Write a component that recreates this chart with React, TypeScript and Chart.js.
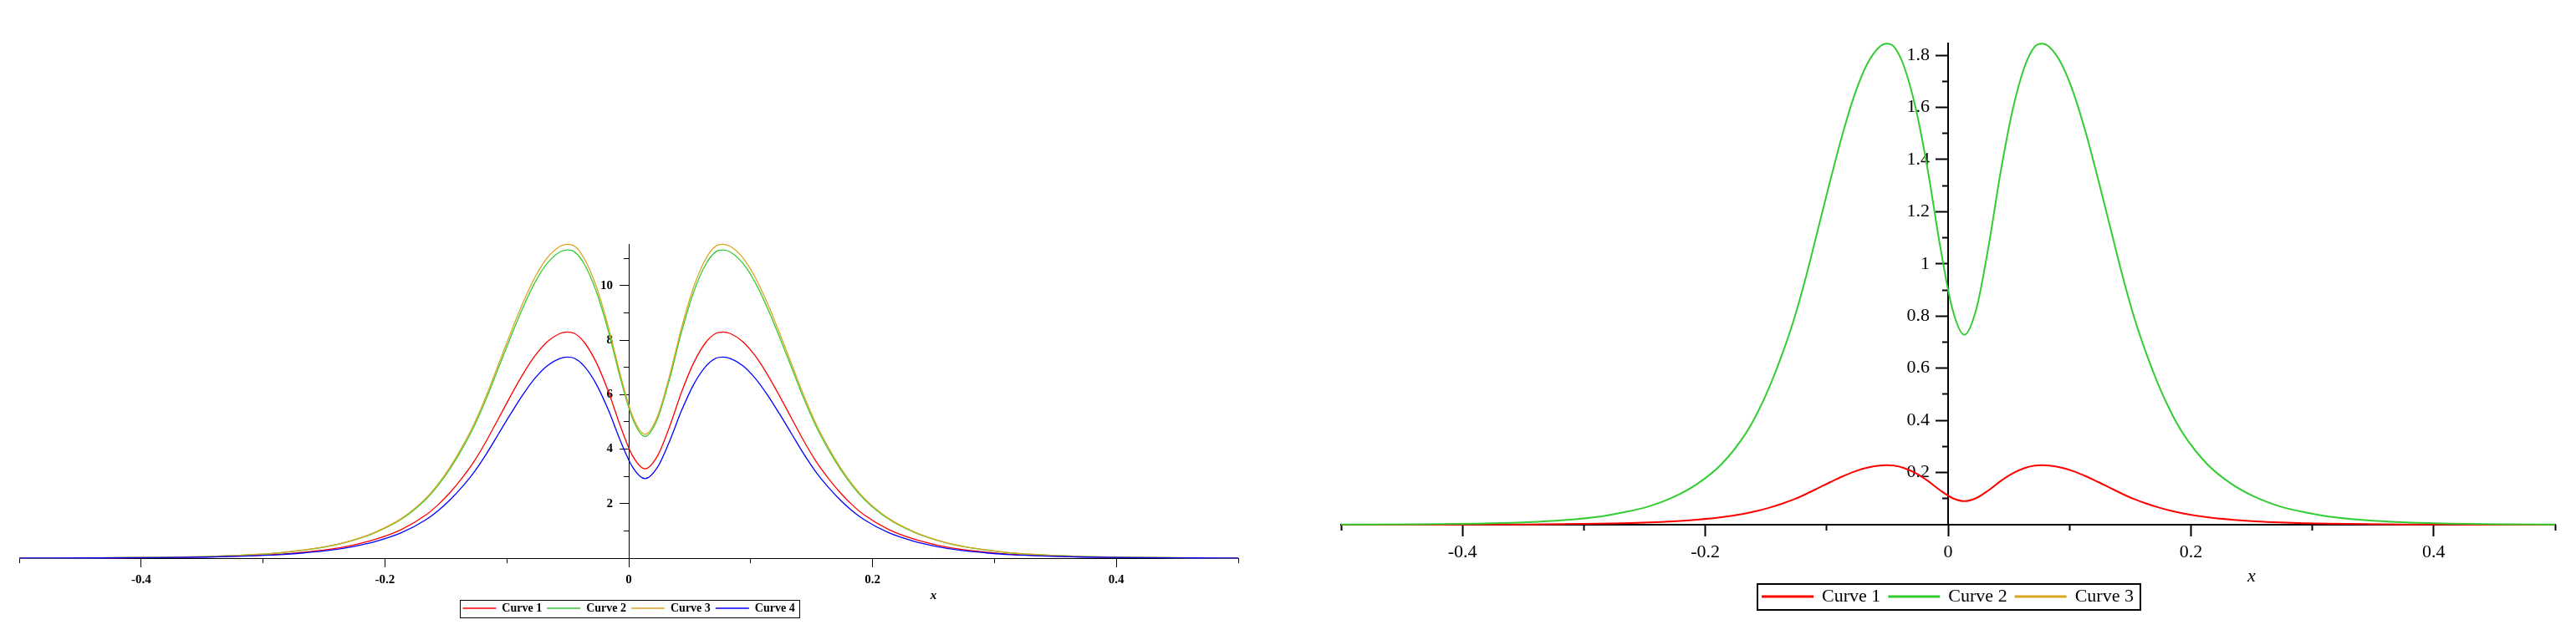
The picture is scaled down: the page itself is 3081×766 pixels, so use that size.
import React, { useEffect, useRef } from 'react';
import { Chart, registerables } from 'chart.js';

Chart.register(...registerables);

// ---------------- data ----------------
const X_VALUES = [
  -0.5, -0.4366, -0.3866, -0.3466, -0.3166, -0.2866, -0.2666, -0.2466, -0.2266, -0.2066,
  -0.1866, -0.1666, -0.1566, -0.1466, -0.1366, -0.1266, -0.1166, -0.1066, -0.0966, -0.0866,
  -0.0766, -0.0666, -0.0566, -0.0506, -0.0446, -0.0366, -0.0266, -0.0166, -0.0066, 0.0034,
  0.0134,
  0.0234, 0.0334, 0.0434, 0.0534, 0.0634, 0.0714, 0.0774, 0.0834, 0.0934, 0.1034,
  0.1134, 0.1234, 0.1334, 0.1434, 0.1534, 0.1634, 0.1734, 0.1834, 0.1934, 0.2134,
  0.2334, 0.2534, 0.2734, 0.2934, 0.3134, 0.3434, 0.3734, 0.4134, 0.4634, 0.5,
];

// left plot
const LEFT_CURVE_1 = [
  0.002, 0.007, 0.020, 0.043, 0.079, 0.141, 0.216, 0.315, 0.473, 0.706,
  1.046, 1.577, 1.951, 2.407, 2.947, 3.569, 4.316, 5.146, 5.976, 6.765,
  7.445, 7.951, 8.242, 8.30, 8.250, 7.927, 7.180, 6.101, 4.814, 3.735,
  3.279,
  3.735, 4.814, 6.101, 7.180, 7.927, 8.250, 8.30, 8.242, 7.951, 7.445,
  6.765, 5.976, 5.146, 4.316, 3.569, 2.947, 2.407, 1.951, 1.577, 1.046,
  0.706, 0.473, 0.315, 0.216, 0.141, 0.079, 0.043, 0.020, 0.007, 0.003,
];
const LEFT_CURVE_2 = [
  0.003, 0.010, 0.027, 0.059, 0.107, 0.192, 0.294, 0.430, 0.645, 0.961,
  1.425, 2.149, 2.658, 3.280, 4.015, 4.863, 5.881, 7.012, 8.143, 9.218,
  10.145, 10.835, 11.231, 11.31, 11.242, 10.801, 9.783, 8.313, 6.560, 5.090,
  4.467,
  5.090, 6.560, 8.313, 9.783, 10.801, 11.242, 11.31, 11.231, 10.835, 10.145,
  9.218, 8.143, 7.012, 5.881, 4.863, 4.015, 3.280, 2.658, 2.149, 1.425,
  0.961, 0.645, 0.430, 0.294, 0.192, 0.107, 0.059, 0.027, 0.010, 0.005,
];
const LEFT_CURVE_3 = [
  0.003, 0.010, 0.028, 0.060, 0.109, 0.196, 0.300, 0.438, 0.657, 0.979,
  1.452, 2.189, 2.707, 3.341, 4.090, 4.954, 5.990, 7.142, 8.294, 9.389,
  10.333, 11.036, 11.439, 11.52, 11.451, 11.002, 9.965, 8.467, 6.682, 5.184,
  4.550,
  5.184, 6.682, 8.467, 9.965, 11.002, 11.451, 11.52, 11.439, 11.036, 10.333,
  9.389, 8.294, 7.142, 5.990, 4.954, 4.090, 3.341, 2.707, 2.189, 1.452,
  0.979, 0.657, 0.438, 0.300, 0.196, 0.109, 0.060, 0.028, 0.010, 0.005,
];
const LEFT_CURVE_4 = [
  0.002, 0.007, 0.018, 0.038, 0.070, 0.125, 0.192, 0.280, 0.421, 0.627,
  0.930, 1.402, 1.734, 2.140, 2.620, 3.173, 3.838, 4.576, 5.314, 6.015,
  6.620, 7.070, 7.328, 7.38, 7.336, 7.048, 6.384, 5.424, 4.280, 3.321,
  2.915,
  3.321, 4.280, 5.424, 6.384, 7.048, 7.336, 7.38, 7.328, 7.070, 6.620,
  6.015, 5.314, 4.576, 3.838, 3.173, 2.620, 2.140, 1.734, 1.402, 0.930,
  0.627, 0.421, 0.280, 0.192, 0.125, 0.070, 0.038, 0.018, 0.007, 0.003,
];

// right plot
const RIGHT_CURVE_1 = [
  0.0001, 0.0002, 0.0005, 0.0012, 0.0022, 0.0039, 0.0059, 0.0087, 0.0130, 0.0194,
  0.0287, 0.0433, 0.0536, 0.0661, 0.0809, 0.0980, 0.1186, 0.1414, 0.1642, 0.1858,
  0.2045, 0.2184, 0.2264, 0.228, 0.2266, 0.2177, 0.1972, 0.1676, 0.1322, 0.1026,
  0.0901,
  0.1026, 0.1322, 0.1676, 0.1972, 0.2177, 0.2266, 0.228, 0.2264, 0.2184, 0.2045,
  0.1858, 0.1642, 0.1414, 0.1186, 0.0980, 0.0809, 0.0661, 0.0536, 0.0433, 0.0287,
  0.0194, 0.0130, 0.0087, 0.0059, 0.0039, 0.0022, 0.0012, 0.0005, 0.0002, 0.0001,
];
const RIGHT_CURVE_2 = [
  0.0006, 0.0017, 0.0044, 0.0096, 0.0175, 0.0313, 0.0479, 0.0701, 0.1051, 0.1567,
  0.2323, 0.3504, 0.4333, 0.5348, 0.6546, 0.7929, 0.9589, 1.1433, 1.3277, 1.5029,
  1.6541, 1.7666, 1.8311, 1.844, 1.8329, 1.7610, 1.5951, 1.3553, 1.0695, 0.8298,
  0.7284,
  0.8298, 1.0695, 1.3553, 1.5951, 1.7610, 1.8329, 1.844, 1.8311, 1.7666, 1.6541,
  1.5029, 1.3277, 1.1433, 0.9589, 0.7929, 0.6546, 0.5348, 0.4333, 0.3504, 0.2323,
  0.1567, 0.1051, 0.0701, 0.0479, 0.0313, 0.0175, 0.0096, 0.0044, 0.0017, 0.0007,
];
const RIGHT_CURVE_3: number[] = [];

const SERIES_NAMES = ['Curve 1', 'Curve 2', 'Curve 3', 'Curve 4'];

// ticks
const X_TICKS = [-0.4, -0.2, 0, 0.2, 0.4];
const X_TICK_LABELS = ['-0.4', '-0.2', '0', '0.2', '0.4'];
const X_MINOR_TICKS = [-0.5, -0.3, -0.1, 0.1, 0.3, 0.5];

const LEFT_Y_TICKS = [2, 4, 6, 8, 10];
const LEFT_Y_TICK_LABELS = ['2', '4', '6', '8', '10'];
const LEFT_Y_MINOR_TICKS = [1, 3, 5, 7, 9, 11];

const RIGHT_Y_TICKS = [0.2, 0.4, 0.6, 0.8, 1, 1.2, 1.4, 1.6, 1.8];
const RIGHT_Y_TICK_LABELS = ['0.2', '0.4', '0.6', '0.8', '1', '1.2', '1.4', '1.6', '1.8'];
const RIGHT_Y_MINOR_TICKS = [0.1, 0.3, 0.5, 0.7, 0.9, 1.1, 1.3, 1.5, 1.7];

// ---------------- styling ----------------
const RED = '#ff0000';
const GREEN = '#33cc33';
const GOLD = '#daa520';
const BLUE = '#0000ff';
const SERIF = '"Liberation Serif", "Times New Roman", Times, serif';

const points = (ys: number[]) => ys.map((y, i) => ({ x: X_VALUES[i], y }));
const setTicks = (vals: number[]) => (scale: any) => {
  scale.ticks = vals.map((v) => ({ value: v }));
};

const maplePlugin = {
  id: 'maple',
  afterDraw(chart: any, _args: any, opts: any) {
    const ctx = chart.ctx;
    const area = chart.chartArea;
    ctx.save();
    ctx.fillStyle = '#000';
    ctx.font = opts.titleFont;
    ctx.textAlign = 'center';
    ctx.textBaseline = 'middle';
    ctx.fillText('x', chart.scales.x.getPixelForValue(opts.titleAt), area.bottom + opts.titleOffset);
    const boxes = chart.legend && chart.legend.legendHitBoxes;
    if (boxes && boxes.length) {
      const first = boxes[0];
      const last = boxes[boxes.length - 1];
      const left = Math.round(first.left - opts.insetLeft);
      const right = Math.round(last.left + last.width + opts.insetRight);
      const cy = first.top + first.height / 2;
      const top = Math.round(cy - opts.frameHeight / 2);
      const off = opts.frameWidth % 2 === 1 ? 0.5 : 0;
      ctx.lineWidth = opts.frameWidth;
      ctx.strokeStyle = '#000';
      ctx.strokeRect(left + off, top + off, right - left, opts.frameHeight);
    }
    ctx.restore();
  },
};

type Spec = {
  width: number;
  datasets: { label: string; color: string; data: number[]; order: number }[];
  yMax: number;
  yTicks: number[];
  yTickLabels: string[];
  yMinor: number[];
  labelAxisAt: number;
  padding: { left: number; right: number; top: number; bottom: number };
  xAxisHeight: number;
  lineWidth: number;
  axisWidth: number;
  majorLen: number;
  minorLen: number;
  fontSize: number;
  fontWeight: string;
  legendFontSize: number;
  tickPadding: number;
  legendBoxWidth: number;
  legendBoxHeight: number;
  legendPadding: number;
  plugin: any;
};

function makeConfig(s: Spec): any {
  const font = { family: SERIF, size: s.fontSize, weight: s.fontWeight };
  const legendFont = { family: SERIF, size: s.legendFontSize, weight: s.fontWeight };
  const common = { type: 'linear', min: -0.5, max: 0.5 };
  const yCommon = { type: 'linear', min: 0, max: s.yMax };
  return {
    type: 'line',
    data: {
      datasets: s.datasets.map((d) => ({
        label: d.label,
        data: points(d.data),
        borderColor: d.color,
        backgroundColor: d.color,
        borderWidth: s.lineWidth,
        pointRadius: 0,
        pointHoverRadius: 0,
        cubicInterpolationMode: 'monotone',
        fill: false,
        order: d.order,
        clip: 6,
        xAxisID: 'x',
        yAxisID: 'y',
      })),
    },
    options: {
      animation: false,
      responsive: false,
      events: [],
      layout: { padding: s.padding, autoPadding: false },
      scales: {
        xminor: {
          ...common,
          position: 'bottom',
          weight: -1,
          afterBuildTicks: setTicks(X_MINOR_TICKS),
          afterFit: (sc: any) => { sc.height = 0; },
          grid: { drawOnChartArea: false, drawTicks: true, tickLength: s.minorLen, tickWidth: s.axisWidth, tickColor: '#000' },
          border: { display: false },
          ticks: { display: false, autoSkip: false },
        },
        x: {
          ...common,
          position: 'bottom',
          weight: 0,
          afterBuildTicks: setTicks(X_TICKS),
          afterFit: (sc: any) => { sc.height = s.xAxisHeight; },
          grid: { drawOnChartArea: false, drawTicks: true, tickLength: s.majorLen, tickWidth: s.axisWidth, tickColor: '#000' },
          border: { display: true, color: '#000', width: s.axisWidth },
          ticks: {
            autoSkip: false,
            maxRotation: 0,
            color: '#000',
            padding: s.tickPadding,
            font,
            callback: (_v: any, i: number) => X_TICK_LABELS[i],
          },
        },
        y: {
          ...yCommon,
          position: { x: 0 },
          afterBuildTicks: setTicks(s.yTicks),
          afterFit: (sc: any) => { sc.width = 0; },
          grid: { drawOnChartArea: false, drawTicks: true, tickLength: s.majorLen, tickWidth: s.axisWidth, tickColor: '#000' },
          border: { display: true, color: '#000', width: s.axisWidth },
          ticks: { display: false, autoSkip: false },
        },
        yminor: {
          ...yCommon,
          position: { x: 0 },
          afterBuildTicks: setTicks(s.yMinor),
          afterFit: (sc: any) => { sc.width = 0; },
          grid: { drawOnChartArea: false, drawTicks: true, tickLength: s.minorLen, tickWidth: s.axisWidth, tickColor: '#000' },
          border: { display: false },
          ticks: { display: false, autoSkip: false },
        },
        ylabels: {
          ...yCommon,
          position: { x: s.labelAxisAt },
          afterBuildTicks: setTicks(s.yTicks),
          afterFit: (sc: any) => { sc.width = 0; },
          grid: { display: false, drawTicks: false },
          border: { display: false },
          ticks: {
            autoSkip: false,
            padding: 0,
            color: '#000',
            font,
            callback: (_v: any, i: number) => s.yTickLabels[i],
          },
        },
      },
      plugins: {
        tooltip: { enabled: false },
        title: { display: false },
        legend: {
          display: true,
          position: 'bottom',
          align: 'center',
          labels: {
            boxWidth: s.legendBoxWidth,
            boxHeight: s.legendBoxHeight,
            padding: s.legendPadding,
            color: '#000',
            font: legendFont,
            sort: (a: any, b: any) => a.datasetIndex - b.datasetIndex,
          },
        },
        maple: s.plugin,
      },
    },
    plugins: [maplePlugin],
  };
}

const LEFT_SPEC: Spec = {
  width: 1540,
  datasets: [
    { label: SERIES_NAMES[0], color: RED, data: LEFT_CURVE_1, order: 4 },
    { label: SERIES_NAMES[1], color: GREEN, data: LEFT_CURVE_2, order: 3 },
    { label: SERIES_NAMES[2], color: GOLD, data: LEFT_CURVE_3, order: 2 },
    { label: SERIES_NAMES[3], color: BLUE, data: LEFT_CURVE_4, order: 1 },
  ],
  yMax: 11.53,
  yTicks: LEFT_Y_TICKS,
  yTickLabels: LEFT_Y_TICK_LABELS,
  yMinor: LEFT_Y_MINOR_TICKS,
  labelAxisAt: -0.013,
  padding: { left: 23, right: 59, top: 292, bottom: 21 },
  xAxisHeight: 47,
  lineWidth: 1.3,
  axisWidth: 1,
  majorLen: 11,
  minorLen: 6,
  fontSize: 15,
  fontWeight: 'bold',
  legendFontSize: 14,
  tickPadding: 6,
  legendBoxWidth: 40,
  legendBoxHeight: 0,
  legendPadding: 6,
  plugin: { titleFont: `italic bold 15px ${SERIF}`, titleAt: 0.25, titleOffset: 45, insetLeft: 3, insetRight: 5, frameHeight: 21, frameWidth: 1 },
};

const RIGHT_SPEC: Spec = {
  width: 1541,
  datasets: [
    { label: SERIES_NAMES[0], color: RED, data: RIGHT_CURVE_1, order: 3 },
    { label: SERIES_NAMES[1], color: GREEN, data: RIGHT_CURVE_2, order: 2 },
    { label: SERIES_NAMES[2], color: GOLD, data: RIGHT_CURVE_3, order: 1 },
  ],
  yMax: 1.845,
  yTicks: RIGHT_Y_TICKS,
  yTickLabels: RIGHT_Y_TICK_LABELS,
  yMinor: RIGHT_Y_MINOR_TICKS,
  labelAxisAt: -0.0152,
  padding: { left: 64, right: 25, top: 52, bottom: 31 },
  xAxisHeight: 65,
  lineWidth: 2,
  axisWidth: 2,
  majorLen: 14,
  minorLen: 7,
  fontSize: 22,
  fontWeight: 'normal',
  legendFontSize: 22,
  tickPadding: 6,
  legendBoxWidth: 60,
  legendBoxHeight: 1,
  legendPadding: 10,
  plugin: { titleFont: `italic 22px ${SERIF}`, titleAt: 0.25, titleOffset: 62, insetLeft: 6, insetRight: 8, frameHeight: 31, frameWidth: 2 },
};

function PlotCanvas({ spec, left }: { spec: Spec; left: number }) {
  const ref = useRef<HTMLCanvasElement | null>(null);
  useEffect(() => {
    if (!ref.current) return;
    const chart = new Chart(ref.current, makeConfig(spec));
    return () => chart.destroy();
  }, [spec]);
  return (
    <canvas
      ref={ref}
      width={spec.width}
      height={766}
      style={{ position: 'absolute', left, top: 0, width: spec.width, height: 766 }}
    />
  );
}

export default function App() {
  return (
    <div style={{ position: 'absolute', left: 0, top: 0, width: 3081, height: 766, background: '#fff', overflow: 'hidden' }}>
      <PlotCanvas spec={LEFT_SPEC} left={0} />
      <PlotCanvas spec={RIGHT_SPEC} left={1540} />
    </div>
  );
}
